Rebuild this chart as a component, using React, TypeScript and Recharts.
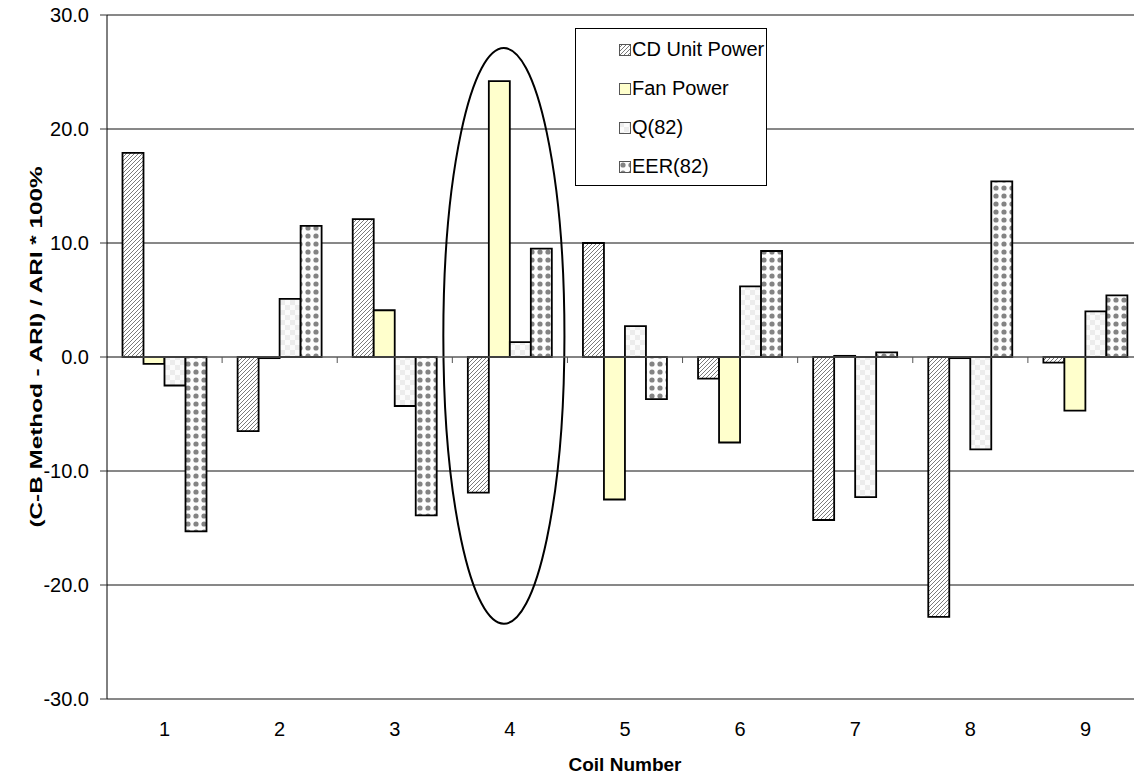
import React from "react";
import {
  BarChart,
  Bar,
  XAxis,
  YAxis,
  CartesianGrid,
  Legend,
  ReferenceArea,
  ReferenceLine,
} from "recharts";

const coils = ["1", "2", "3", "4", "5", "6", "7", "8", "9"];
const cdUnitPower = [17.9, -6.5, 12.1, -11.9, 10.0, -1.9, -14.3, -22.8, -0.5];
const fanPower = [-0.6, -0.1, 4.1, 24.2, -12.5, -7.5, 0.1, -0.1, -4.7];
const q82 = [-2.5, 5.1, -4.3, 1.3, 2.7, 6.2, -12.3, -8.1, 4.0];
const eer82 = [-15.3, 11.5, -13.9, 9.5, -3.7, 9.3, 0.4, 15.4, 5.4];
const yTicks = [-30, -20, -10, 0, 10, 20, 30];

// circled coil and the vertical extent of the ellipse around it
const circledCoil = "4";
const ellipseTop = 27.1;
const ellipseBottom = -23.4;

const FONT = "Arial, 'Liberation Sans', sans-serif";

const series = [
  { key: "cd", name: "CD Unit Power", fill: "url(#patCD)" },
  { key: "fan", name: "Fan Power", fill: "#FFFFCC" },
  { key: "q", name: "Q(82)", fill: "url(#patQ)" },
  { key: "eer", name: "EER(82)", fill: "url(#patEER)" },
];

const data = coils.map((c, i) => ({
  coil: c,
  cd: cdUnitPower[i],
  fan: fanPower[i],
  q: q82[i],
  eer: eer82[i],
}));

const Patterns = () => (
  <defs>
    <pattern id="patCD" width="4" height="4" patternUnits="userSpaceOnUse">
      <rect width="4" height="4" fill="#fff" />
      <path d="M-1,1 l2,-2 M0,4 l4,-4 M3,5 l2,-2" stroke="#7a7a7a" strokeWidth="1" />
    </pattern>
    <pattern id="patQ" width="10" height="10" patternUnits="userSpaceOnUse">
      <rect width="10" height="10" fill="#fbfbfb" />
      <rect width="5" height="5" fill="#ececec" />
      <rect x="5" y="5" width="5" height="5" fill="#ececec" />
    </pattern>
    <pattern id="patEER" width="8" height="8" patternUnits="userSpaceOnUse">
      <rect width="8" height="8" fill="#fdfdfd" />
      <circle cx="4" cy="4" r="2.6" fill="#838383" />
    </pattern>
  </defs>
);

// legend follows the series order (recharts would sort it by name)
const renderLegend = () => (
  <div
    style={{
      width: 192,
      height: 158,
      boxSizing: "border-box",
      border: "1px solid #000",
      background: "#fff",
      paddingTop: 1,
      fontFamily: FONT,
      fontSize: 20,
      color: "#000",
    }}
  >
    {series.map((s) => (
      <div
        key={s.key}
        style={{ height: 39, display: "flex", alignItems: "center", paddingLeft: 43 }}
      >
        <svg width={12} height={12} style={{ marginRight: 1 }}>
          <rect x={0.5} y={0.5} width={11} height={11} fill={s.fill} stroke="#555" />
        </svg>
        <span>{s.name}</span>
      </div>
    ))}
  </div>
);

const ZeroAxis = (props: any) => {
  const { x1, y1, x2, y2 } = props;
  const step = (x2 - x1) / coils.length;
  return (
    <g>
      <line x1={x1} y1={y1} x2={x2} y2={y2} stroke="#808080" strokeWidth={1} />
      {coils.map((_, k) => (
        <line
          key={k}
          x1={x1 + (k + 1) * step}
          x2={x1 + (k + 1) * step}
          y1={y1}
          y2={y1 + 6}
          stroke="#555"
          strokeWidth={1}
        />
      ))}
    </g>
  );
};

const Ellipse = (props: any) => {
  const { x, y, width, height } = props;
  return (
    <ellipse
      cx={x + width / 2 - 6}
      cy={y + height / 2}
      rx={width / 2 + 3}
      ry={height / 2}
      fill="none"
      stroke="#000"
      strokeWidth={2}
    />
  );
};

const YTitle = (props: any) => {
  const { viewBox } = props;
  const cx = viewBox.x + 36;
  const cy = viewBox.y + viewBox.height / 2 - 10;
  return (
    <text
      x={cx}
      y={cy}
      transform={`rotate(-90, ${cx}, ${cy})`}
      textAnchor="middle"
      dominantBaseline="central"
      fontFamily={FONT}
      fontWeight="bold"
      fontSize={17}
      fill="#000"
      textLength={361}
      lengthAdjust="spacingAndGlyphs"
    >
      (C-B Method  - ARI) / ARI * 100%
    </text>
  );
};

export default function App() {
  return (
    <div
      style={{
        position: "absolute",
        left: 0,
        top: 0,
        width: 1134,
        height: 775,
        overflow: "hidden",
        background: "#fff",
      }}
    >
      <BarChart
        width={1150}
        height={775}
        data={data}
        margin={{ top: 15, right: 7, bottom: 0, left: 0 }}
        barGap={0}
        barCategoryGap={15.5}
      >
        <Patterns />
        <CartesianGrid vertical={false} stroke="#111" strokeWidth={1} />
        <XAxis
          dataKey="coil"
          interval={0}
          height={76}
          axisLine={false}
          tickLine={false}
          tickSize={0}
          tickMargin={23}
          tick={{ fontSize: 20, fill: "#000", fontFamily: FONT }}
          label={{
            value: "Coil Number",
            position: "insideBottom",
            offset: 4,
            fontSize: 19,
            fontWeight: "bold",
            fill: "#000",
            fontFamily: FONT,
          }}
        />
        <YAxis
          width={107}
          domain={[-30, 30]}
          ticks={yTicks}
          interval={0}
          allowDataOverflow
          tickFormatter={(v: number) => v.toFixed(1)}
          tickSize={7}
          tickMargin={11}
          axisLine={{ stroke: "#000", strokeWidth: 1 }}
          tickLine={{ stroke: "#333" }}
          tick={{ fontSize: 20, fill: "#000", fontFamily: FONT }}
          label={<YTitle />}
        />
        <ReferenceLine y={0} shape={<ZeroAxis />} />
        {series.map((s) => (
          <Bar
            key={s.key}
            dataKey={s.key}
            name={s.name}
            fill={s.fill}
            stroke="#000"
            strokeWidth={1.8}
            isAnimationActive={false}
          />
        ))}
        <ReferenceArea
          x1={circledCoil}
          x2={circledCoil}
          y1={ellipseBottom}
          y2={ellipseTop}
          shape={<Ellipse />}
        />
        <Legend
          content={renderLegend}
          layout="horizontal"
          verticalAlign="middle"
          align="center"
          wrapperStyle={{ top: 28, left: 575, width: 192, height: 158 }}
        />
      </BarChart>
    </div>
  );
}
